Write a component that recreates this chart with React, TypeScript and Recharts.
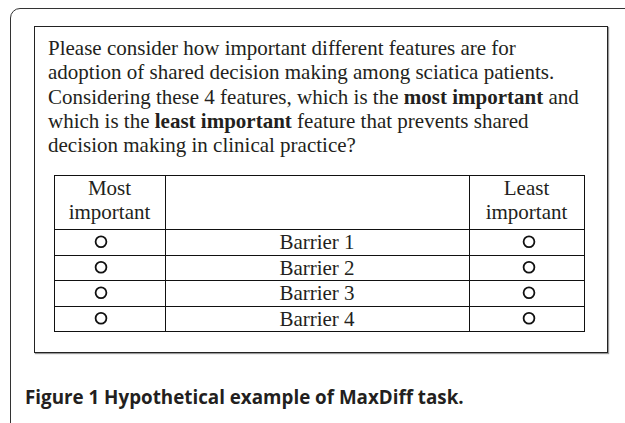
import React from 'react';
import { ScatterChart, Scatter, XAxis, YAxis } from 'recharts';

const barriers = ['Barrier 1', 'Barrier 2', 'Barrier 3', 'Barrier 4'];
const choiceColumns = ['Most important', 'Least important'];
const headerLines = [['Most', 'important'], ['Least', 'important']];

const points = barriers.flatMap((barrier) => choiceColumns.map((column) => ({ barrier, column })));

const serif = '"Liberation Serif", "Times New Roman", serif';
const ink = '#231f20';

// table geometry (px)
const tableTop = 175;
const colEdges = [54, 165, 469, 584];
const headerBottom = 229;
const rowH = 25.5;

const Radio = (props: any) => (
  <circle cx={props.cx} cy={props.cy} r={5.4} fill="#fff" stroke="#111" strokeWidth={1.8} />
);

const hLine = (y: number, key: string) => (
  <div key={key} style={{ position: 'absolute', left: colEdges[0], top: y, width: colEdges[3] - colEdges[0] + 1, height: 1, background: '#111' }} />
);
const vLine = (x: number, key: string) => (
  <div key={key} style={{ position: 'absolute', left: x, top: tableTop, width: 1, height: headerBottom + rowH * barriers.length - tableTop + 1, background: '#111' }} />
);

const App: React.FC = () => {
  const rowTops = barriers.map((_, i) => headerBottom + i * rowH);
  return (
    <div style={{ position: 'absolute', left: 0, top: 0, width: 625, height: 423, overflow: 'hidden', background: '#fff', color: ink }}>
      {/* outer rounded frame, cut off at right/bottom */}
      <div style={{ position: 'absolute', left: 10, top: 8, width: 700, height: 500, border: '1.5px solid #333', borderRadius: 10 }} />
      {/* inner box */}
      <div style={{ position: 'absolute', left: 34, top: 26, width: 572, height: 325, border: '1px solid #222', boxShadow: '1px 1px 1px #999' }} />

      <div style={{ position: 'absolute', left: 48, top: 36, fontFamily: serif, fontSize: 21, lineHeight: '24.3px', whiteSpace: 'nowrap' }}>
        Please consider how important different features are for<br />
        adoption of shared decision making among sciatica patients.<br />
        Considering these {barriers.length} features, which is the <b>most important</b> and<br />
        which is the <b>least important</b> feature that prevents shared<br />
        decision making in clinical practice?
      </div>

      {/* table lines */}
      {hLine(tableTop, 'top')}
      {[headerBottom, ...rowTops.map((t) => t + rowH)].map((y, i) => hLine(Math.round(y), 'h' + i))}
      {colEdges.map((x, i) => vLine(x, 'v' + i))}

      {/* header cells */}
      {headerLines.map((lines, i) => {
        const left = i === 0 ? colEdges[0] : colEdges[2];
        const right = i === 0 ? colEdges[1] : colEdges[3];
        return (
          <div key={'hd' + i} style={{ position: 'absolute', left, top: tableTop + 1, width: right - left, textAlign: 'center', fontFamily: serif, fontSize: 21, lineHeight: '24px' }}>
            {lines[0]}<br />{lines[1]}
          </div>
        );
      })}

      {barriers.map((b, i) => (
        <div key={b} style={{ position: 'absolute', left: colEdges[1], top: rowTops[i] + 1, width: colEdges[2] - colEdges[1], textAlign: 'center', fontFamily: serif, fontSize: 21, lineHeight: '25.5px' }}>
          {b}
        </div>
      ))}

      <div style={{ position: 'absolute', left: 0, top: 0 }}>
        <ScatterChart width={625} height={423} margin={{ top: 241.75, bottom: 104.75, left: 101, right: 96 }}>
          <XAxis type="category" dataKey="column" scale="point" allowDuplicatedCategory={false} hide />
          <YAxis type="category" dataKey="barrier" scale="point" allowDuplicatedCategory={false} hide />
          <Scatter data={points} shape={Radio} isAnimationActive={false} />
        </ScatterChart>
      </div>

      <div style={{ position: 'absolute', left: 25, top: 384, fontFamily: '"Open Sans", sans-serif', fontWeight: 700, fontSize: 18.8, lineHeight: 'normal', whiteSpace: 'nowrap', color: ink }}>
        Figure 1 Hypothetical example of MaxDiff task.
      </div>
    </div>
  );
};

export default App;
